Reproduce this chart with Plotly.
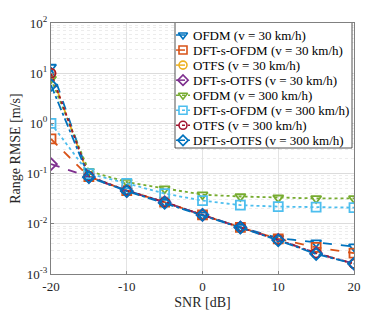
import plotly.graph_objects as go

snr = [-20, -15, -10, -5, 0, 5, 10, 15, 20]
x_ticks = [-20, -10, 0, 10, 20]
x_ticktext = ["-20", "-10", "0", "10", "20"]
y_ticks = [1e-3, 1e-2, 1e-1, 1e0, 1e1, 1e2]
y_ticktext = ["10<sup>-3</sup>", "10<sup>-2</sup>", "10<sup>-1</sup>",
              "10<sup>0</sup>", "10<sup>1</sup>", "10<sup>2</sup>"]

ofdm_30 = [13.3, 0.088, 0.046, 0.027, 0.015, 0.0086, 0.0052, 0.0042, 0.0035]
dfts_ofdm_30 = [0.49, 0.087, 0.046, 0.027, 0.015, 0.0085, 0.0050, 0.0034, 0.0026]
otfs_30 = [10.0, 0.086, 0.045, 0.027, 0.015, 0.0085, 0.0048, 0.0026, 0.0016]
dfts_otfs_30 = [0.155, 0.086, 0.045, 0.027, 0.015, 0.0085, 0.0048, 0.0026, 0.0016]
ofdm_300 = [7.7, 0.112, 0.068, 0.050, 0.038, 0.035, 0.033, 0.032, 0.032]
dfts_ofdm_300 = [1.0, 0.100, 0.064, 0.040, 0.029, 0.0235, 0.022, 0.0215, 0.021]
otfs_300 = [10.0, 0.088, 0.046, 0.027, 0.015, 0.0086, 0.0048, 0.0026, 0.0016]
dfts_otfs_300 = [5.8, 0.085, 0.045, 0.026, 0.015, 0.0084, 0.0047, 0.0025, 0.0016]

names = ["OFDM (v = 30 km/h)", "DFT-s-OFDM (v = 30 km/h)", "OTFS (v = 30 km/h)",
         "DFT-s-OTFS (v = 30 km/h)", "OFDM (v = 300 km/h)", "DFT-s-OFDM (v = 300 km/h)",
         "OTFS (v = 300 km/h)", "DFT-s-OTFS (v = 300 km/h)"]
series = [ofdm_30, dfts_ofdm_30, otfs_30, dfts_otfs_30, ofdm_300, dfts_ofdm_300, otfs_300, dfts_otfs_300]
colors = ["#0072BD", "#D95319", "#EDB120", "#7E2F8E", "#77AC30", "#4DBEEE", "#A2142F", "#0072BD"]
symbols = ["triangle-down-open", "square-open", "circle-open", "diamond-open",
           "triangle-down-open", "square-open", "circle-open", "diamond-open"]
dashes = ["dash", "dash", "dash", "dash", "dot", "dot", "dot", "dashdot"]

font = "Liberation Serif"
# page body has an 8px margin: the figure is drawn at (8, 8) in the window
W, H = 382, 304
ML, MR, MT, MB = 43, 36, 15, 38

fig = go.Figure()
for nm, ys, c, s, d in zip(names, series, colors, symbols, dashes):
    fig.add_trace(go.Scatter(
        x=snr, y=ys, name=nm, mode="lines+markers", showlegend=False,
        line=dict(color=c, width=1.8, dash=d),
        marker=dict(symbol=s, size=9, color=c, line=dict(width=1.8, color=c)),
    ))

# ---- custom legend on pixel-like overlay axes (window pixels minus 8) ----
leg_left, leg_right, leg_top, leg_bot = 167, 344, 14, 140
row0, row_h = 27, 15.05
fig.add_trace(go.Scatter(
    x=[leg_left, leg_right, leg_right, leg_left, leg_left],
    y=[leg_top, leg_top, leg_bot, leg_bot, leg_top],
    xaxis="x2", yaxis="y2", mode="lines", fill="toself", fillcolor="white",
    line=dict(color="#262626", width=0.8), showlegend=False, hoverinfo="skip"))
for i, (nm, c, s, d) in enumerate(zip(names, colors, symbols, dashes)):
    yc = row0 + i * row_h
    fig.add_trace(go.Scatter(
        x=[168, 182], y=[yc, yc], xaxis="x2", yaxis="y2", mode="lines",
        line=dict(color=c, width=1.5, dash=d), showlegend=False, hoverinfo="skip"))
    fig.add_trace(go.Scatter(
        x=[175], y=[yc], xaxis="x2", yaxis="y2", mode="markers",
        marker=dict(symbol=s, size=8, color=c, line=dict(width=1.6, color=c)),
        showlegend=False, hoverinfo="skip"))
    fig.add_annotation(x=184, y=yc, xref="x2", yref="y2", text=nm, showarrow=False,
                       xanchor="left", yanchor="middle", borderpad=0,
                       font=dict(family=font, size=13, color="#000"))

fig.update_layout(
    width=W, height=H,
    margin=dict(l=ML, r=MR, t=MT, b=MB, autoexpand=False),
    paper_bgcolor="white", plot_bgcolor="white",
    font=dict(family=font, size=13, color="#262626"),
    showlegend=False,
    xaxis2=dict(overlaying="x", range=[ML, W - MR], visible=False, fixedrange=True),
    yaxis2=dict(overlaying="y", range=[H - MB, MT], visible=False, fixedrange=True),
)
fig.update_layout(xaxis=dict(
    range=[-20, 20], tickvals=x_ticks, ticktext=x_ticktext, automargin=False,
    showgrid=True, gridcolor="#e3e3e3", gridwidth=1,
    showline=True, linecolor="#808080", linewidth=1, mirror=True,
    zeroline=False, ticks="inside", ticklen=3, tickcolor="#808080",
    title=dict(text="SNR [dB]", font=dict(size=14, family=font, color="#262626"), standoff=4),
    tickfont=dict(size=13, family=font, color="#262626"),
))
fig.update_layout(yaxis=dict(
    type="log", range=[-3, 2], tickvals=y_ticks, ticktext=y_ticktext, automargin=False,
    showgrid=True, gridcolor="#dcdcdc", gridwidth=1,
    minor=dict(showgrid=True, gridcolor="#ececec", griddash="dot", ticks="", dtick="D1"),
    showline=True, linecolor="#808080", linewidth=1, mirror=True,
    zeroline=False, ticks="inside", ticklen=3, tickcolor="#808080",
    title=dict(text="Range RMSE [m/s]", font=dict(size=14, family=font, color="#262626"), standoff=4),
    tickfont=dict(size=13, family=font, color="#262626"),
))
fig.write_html("out.html")
